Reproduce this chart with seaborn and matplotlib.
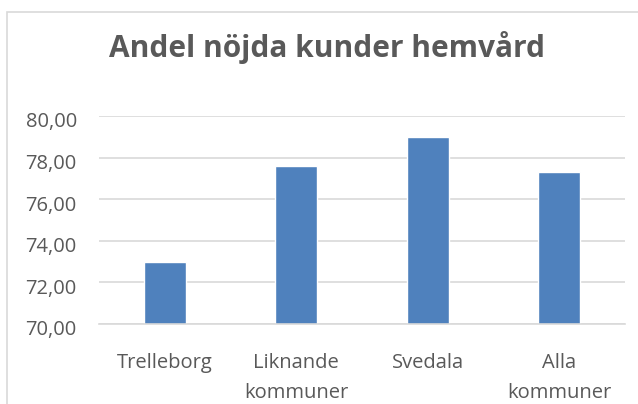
import matplotlib
matplotlib.use("Agg")
import matplotlib.pyplot as plt
import matplotlib.transforms as mtransforms
import seaborn as sns
import pandas as pd
from matplotlib.ticker import FuncFormatter, MultipleLocator
from matplotlib.patches import Rectangle

# data
categories = ["Trelleborg", "Liknande\nkommuner", "Svedala", "Alla\nkommuner"]
values = [73.0, 77.6, 79.0, 77.3]
title = "Andel nöjda kunder hemvård"

sns.set_theme(style="white")
plt.rcParams['font.family'] = ['Open Sans', 'DejaVu Sans']

text_grey = "#595959"
grid_grey = "#D9D9D9"
bar_blue = "#4F81BD"

df = pd.DataFrame({"kategori": categories, "andel": values})

fig = plt.figure(figsize=(6.38, 4.04), dpi=100)
ax = fig.add_axes([99 / 638, 80 / 404, 526 / 638, 208 / 404])

sns.barplot(data=df, x="kategori", y="andel", color=bar_blue, width=0.32,
            saturation=1, ax=ax)

ax.set_ylim(70, 80)
ax.set_xlim(-0.5, 3.5)
ax.yaxis.set_major_locator(MultipleLocator(2))
ax.yaxis.set_major_formatter(FuncFormatter(lambda v, p: f"{v:.2f}".replace(".", ",")))
ax.set_axisbelow(True)
ax.yaxis.grid(True, color=grid_grey, linewidth=1.2)
ax.xaxis.grid(False)
for s in ["left", "right", "top"]:
    ax.spines[s].set_visible(False)
ax.spines["bottom"].set_color(grid_grey)
ax.spines["bottom"].set_linewidth(1.2)
ax.set_xlabel("")
ax.set_ylabel("")
ax.tick_params(axis="y", labelsize=14.5, labelcolor=text_grey, length=0, pad=16)
ax.tick_params(axis="x", labelsize=14.5, labelcolor=text_grey, length=0, pad=21)
for lbl in ax.get_xticklabels():
    lbl.set_linespacing(1.65)

# excel puts the value labels a few pixels below their gridline
shift = mtransforms.ScaledTranslation(0, -4 / 100, fig.dpi_scale_trans)
for lbl in ax.get_yticklabels():
    lbl.set_transform(lbl.get_transform() + shift)

fig.text(327 / 638, 1 - 57 / 404, title, ha="center", va="baseline",
         fontsize=21.5, fontweight="bold", color=text_grey)

# chart area border (cropped at right and bottom in the reference)
fig.patches.append(Rectangle((7 / 638, -0.1), 1.2, (404 - 12) / 404 + 0.1,
                             transform=fig.transFigure, fill=False,
                             edgecolor="#D9D9D9", linewidth=1.2))

fig.savefig("out.png", dpi=100)
